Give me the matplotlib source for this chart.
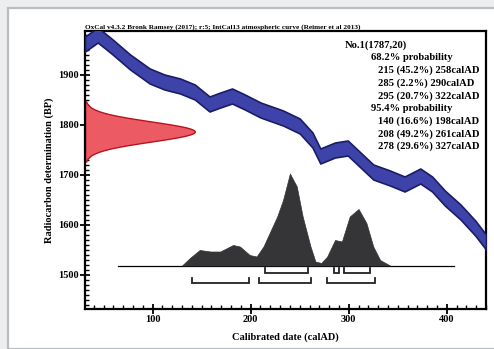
import numpy as np
import matplotlib.pyplot as plt
from matplotlib.patches import Rectangle
from matplotlib.ticker import MultipleLocator

# calibration curve (IntCal13), centre of band
curve_years = [31, 44, 58, 77, 97, 112, 128, 143, 158, 169, 181, 194, 210,
               233, 250, 263, 271, 286, 299, 312, 325, 342, 357, 373, 385,
               398, 414, 429, 440]
curve_bp = [1962, 1980, 1958, 1926, 1898, 1886, 1878, 1866, 1842, 1850, 1858,
            1846, 1830, 1814, 1798, 1770, 1738, 1750, 1754, 1730, 1706, 1694,
            1682, 1698, 1682, 1654, 1626, 1594, 1566]
curve_err = 15

# radiocarbon measurement
r_date = 1787
r_err = 20

# calibrated probability (relative height, BP units above baseline)
cal_years = [130, 138, 148, 159, 169, 182, 189, 199, 206, 213, 227, 233, 240,
             247, 253, 261, 266, 272, 278, 286, 293, 301, 310, 318, 325, 332,
             342]
cal_height = [0, 15, 31, 28, 28, 41, 38, 21, 18, 38, 98, 131, 184, 158, 98,
              38, 8, 5, 18, 51, 48, 98, 113, 85, 38, 11, 0]
baseline = 1519

# ranges
ranges_68 = [(215, 258), (285, 290), (295, 322)]
ranges_95 = [(140, 198), (208, 261), (278, 327)]

# summary text: (indent level, text)
lines = [(0, "No.1(1787,20)"),
         (1, "68.2% probability"),
         (2, "215 (45.2%) 258calAD"),
         (2, "285 (2.2%) 290calAD"),
         (2, "295 (20.7%) 322calAD"),
         (1, "95.4% probability"),
         (2, "140 (16.6%) 198calAD"),
         (2, "208 (49.2%) 261calAD"),
         (2, "278 (29.6%) 327calAD")]
indent_px = [345, 371, 378]

plt.rcParams['font.family'] = ['Liberation Serif', 'DejaVu Serif']
plt.rcParams['font.weight'] = 'bold'

fig = plt.figure(figsize=(4.94, 3.49), dpi=100, facecolor='#eceef0')
fig.patches.append(Rectangle((8 / 494, 0), 1, 341 / 349,
                             transform=fig.transFigure, facecolor='white',
                             edgecolor='#b9bdc2', linewidth=1.6, zorder=-5))

ax = fig.add_axes([85 / 494, 40 / 349, 401 / 494, 278 / 349])
ax.set_zorder(2)
ax.set_facecolor('white')

yrs = np.array(curve_years)
bp = np.array(curve_bp)
ax.fill_between(yrs, bp - curve_err, bp + curve_err, facecolor='#3d43a8',
                edgecolor='#1a1d66', linewidth=1.2, zorder=3)

# measurement distribution drawn sideways from the left axis
bp_grid = np.linspace(r_date - 3 * r_err, r_date + 3 * r_err, 121)
dens = np.exp(-0.5 * ((bp_grid - r_date) / r_err) ** 2)
ax.fill_betweenx(bp_grid, 31, 31 + 112 * dens, facecolor='#ec5a63',
                 edgecolor='#b8141e', linewidth=1.0, zorder=2)

# calibrated distribution
ax.plot([65, 407], [baseline, baseline], color='black', linewidth=0.9, zorder=2)
ax.fill_between(cal_years, baseline, baseline + np.array(cal_height),
                facecolor='#353537', edgecolor='#353537', linewidth=0.5,
                zorder=3)


def bracket(lo, hi, y):
    ax.plot([lo, lo, hi, hi], [y + 9, y, y, y + 9], color='#222222',
            linewidth=1.3, solid_joinstyle='miter', zorder=3)


for lo, hi in ranges_68:
    bracket(lo, hi, 1505)
for lo, hi in ranges_95:
    bracket(lo, hi, 1485)

ax.set_xlim(31, 440)
ax.set_ylim(1432, 1988)
ax.xaxis.set_major_locator(MultipleLocator(100))
ax.xaxis.set_minor_locator(MultipleLocator(10))
ax.yaxis.set_major_locator(MultipleLocator(100))
ax.yaxis.set_minor_locator(MultipleLocator(10))
ax.tick_params(which='major', direction='inout', length=7, width=1.3,
               labelsize=7.5, pad=1)
ax.tick_params(which='minor', direction='in', length=3, width=1.0)
for s in ax.spines.values():
    s.set_linewidth(1.6)

ax.set_xlabel("Calibrated date (calAD)", fontsize=7.5, fontweight='bold',
              labelpad=6)
ax.set_ylabel("Radiocarbon determination (BP)", fontsize=7.5,
              fontweight='bold', labelpad=3)

ax.text(0, 1.005, "OxCal v4.3.2 Bronk Ramsey (2017); r:5; IntCal13 atmospheric "
        "curve (Reimer et al 2013)", transform=ax.transAxes, fontsize=5.2,
        fontweight='bold', va='bottom', ha='left')

for i, (lvl, t) in enumerate(lines):
    fig.text(indent_px[lvl] / 494, 1 - (45 + 12.7 * i) / 349, t,
             fontsize=7.6, fontweight='bold', va='center', ha='left',
             zorder=5)

fig.savefig("out.png", dpi=100, facecolor=fig.get_facecolor())
